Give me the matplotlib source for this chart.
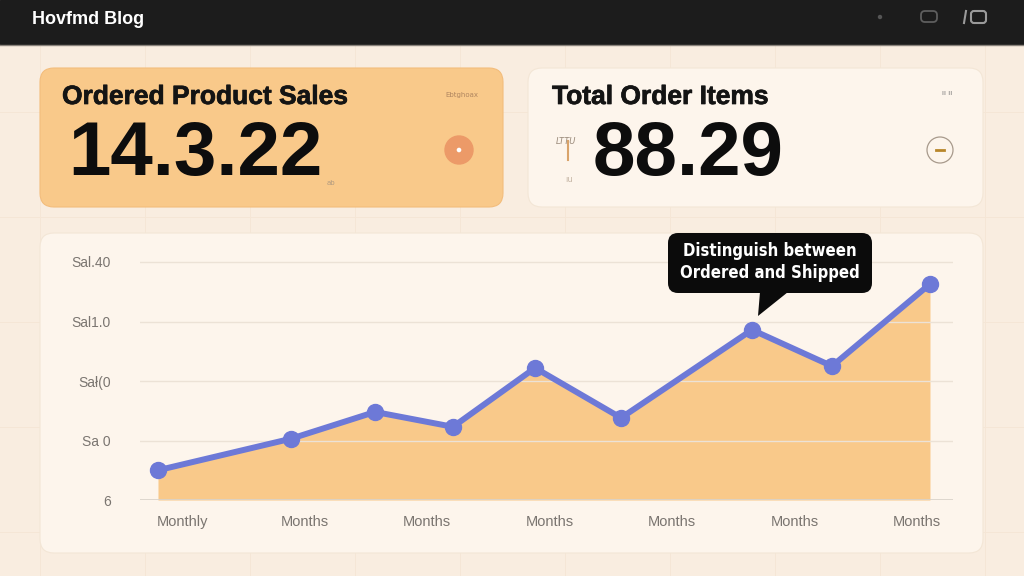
import matplotlib
matplotlib.use("Agg")
import matplotlib.pyplot as plt
import matplotlib.patheffects as pe
from matplotlib.patches import FancyBboxPatch, Rectangle, Circle, Polygon

# ---------------- data ----------------
month_pos = [-0.196, 0.890, 1.576, 2.212, 2.882, 3.584, 4.653, 5.306, 6.106]
sales = [5.0, 10.3, 14.8, 12.3, 22.2, 13.8, 28.6, 22.5, 36.3]
x_ticks = [0, 1, 2, 3, 4, 5, 6]
x_labels = ["Monthly", "Months", "Months", "Months", "Months", "Months", "Months"]
y_ticks = [0, 10, 20, 30, 40]
y_labels = ["6", "Sa 0", "Sa\u0142(0", "Sal1.0", "Sal.40"]
kpi_titles = ["Ordered Product Sales", "Total Order Items"]
kpi_values = ["14.3.22", "88.29"]
blog_title = "Hovfmd Blog"
callout = "Distinguish between\nOrdered and Shipped"

# ---------------- style ----------------
BG = "#f9ede0"
CARD = "#fdf5ec"
ORANGE = "#f9c98a"
LINE = "#6d79d7"
W, H = 1024, 576

fig = plt.figure(figsize=(W / 100, H / 100), dpi=100, facecolor=BG)

# overlay in pixel coordinates
ov = fig.add_axes([0, 0, 1, 1])
ov.set_xlim(0, W)
ov.set_ylim(H, 0)
ov.axis("off")
ov.set_zorder(0)

# faint background grid
for gx in range(40, W, 105):
    ov.plot([gx, gx], [44, H], color="#f5e6d6", lw=0.7, zorder=0)
for gy in range(112, H, 105):
    ov.plot([0, W], [gy, gy], color="#f5e6d6", lw=0.7, zorder=0)

# top bar
ov.add_patch(Rectangle((0, 0), W, 44, color="#1c1c1c", zorder=1))
ov.plot([0, W], [44.5, 44.5], color="#8a837c", lw=1.0, zorder=1)
ov.text(32, 19, blog_title, color="white", fontsize=13, fontweight="bold",
        family="Liberation Sans", va="center", ha="left", zorder=2)
ov.add_patch(Circle((880, 17), 1.5, color="#555555", zorder=2))
ov.add_patch(FancyBboxPatch((922, 12), 14, 9, boxstyle="round,pad=1,rounding_size=4",
                            fill=False, ec="#5e5e5e", lw=1.3, zorder=2))
ov.plot([966, 964], [11, 23], color="#9a9a9a", lw=1.5, zorder=2)
ov.add_patch(FancyBboxPatch((971, 11), 15, 12, boxstyle="round,pad=0,rounding_size=3",
                            fill=False, ec="#9a9a9a", lw=1.5, zorder=2))

# cards
def card(x0, y0, x1, y1, color, ec="none"):
    ov.add_patch(FancyBboxPatch((x0, y0), x1 - x0, y1 - y0,
                                boxstyle="round,pad=0,rounding_size=14",
                                fc=color, ec=ec, lw=0.8, zorder=1))

card(40, 68, 503, 207, ORANGE, ec="#f3bd7c")
card(528, 68, 983, 207, CARD, ec="#f3e6d6")
card(40, 233, 983, 553, CARD, ec="#f3e6d6")

# KPI texts
thick = [pe.withStroke(linewidth=0.5, foreground="#141414")]
title_kw = dict(fontsize=19, fontweight="bold", family="Liberation Sans", color="#141414",
                va="center", ha="left", zorder=3, path_effects=thick)
ov.text(62, 97, kpi_titles[0], **title_kw)
ov.text(552, 97, kpi_titles[1], **title_kw)
num_kw = dict(fontsize=55, fontweight="bold", family="Liberation Sans", color="#0d0d0d",
              va="center", ha="left", zorder=3)
ov.text(68, 156, kpi_values[0], **num_kw)
ov.text(593, 156, kpi_values[1], **num_kw)

# small decorations
ov.text(445, 95, "Ebtghoax", fontsize=5, color="#b08660", va="center", ha="left", zorder=3)
ov.text(327, 183, "ab", fontsize=5, color="#b09a80", va="center", ha="left", zorder=3)
ov.add_patch(Circle((459, 150), 14, color="#ec9a68", zorder=3))
ov.add_patch(Circle((459, 150), 1.6, color="white", zorder=4))
ov.text(947, 93, "ıı ıı", fontsize=5, color="#777777", va="center", ha="center", zorder=3)
ov.add_patch(Circle((940, 150), 13, fill=False, ec="#a89a8c", lw=0.9, zorder=3))
ov.plot([936, 944], [150, 150], color="#b8862a", lw=2, zorder=4)
ov.text(566, 141, "LTTU", fontsize=6, color="#9a8a7a", style="italic", va="center",
        ha="center", zorder=3)
ov.plot([568, 568], [141, 160], color="#d9a36a", lw=1.5, zorder=3)
ov.text(569, 180, "ıu", fontsize=6, color="#c8b8a8", va="center", ha="center", zorder=3)

# ---------------- chart ----------------
ax_l, ax_r, ax_b, ax_t = 140, 953, 500, 255
ax = fig.add_axes([ax_l / W, 1 - ax_b / H, (ax_r - ax_l) / W, (ax_b - ax_t) / H])
ax.set_zorder(2)
ax.patch.set_alpha(0)
ax.set_xlim((ax_l - 182) / 122.5, (ax_r - 182) / 122.5)
ax.set_ylim(0, (ax_b - ax_t) / 59.5 * 10)

ax.fill_between(month_pos, sales, 0, color=ORANGE, lw=0, zorder=1)
ax.plot(month_pos, sales, color=LINE, lw=4.3, marker="o", markersize=11.5,
        solid_capstyle="round", zorder=3)

for s in ax.spines.values():
    s.set_visible(False)
ax.set_yticks(y_ticks)
ax.set_yticklabels(y_labels)
ax.set_xticks(x_ticks)
ax.set_xticklabels(x_labels)
ax.tick_params(axis="y", length=0, pad=21, labelsize=10, labelcolor="#7a7570")
ax.tick_params(axis="x", length=0, pad=11, labelsize=10.5, labelcolor="#7a7570")
for lab in ax.get_xticklabels() + ax.get_yticklabels():
    lab.set_family("Liberation Sans")
ax.grid(axis="y", color="#ece2d6", lw=1, zorder=0)
ax.grid(axis="x", visible=False)
ax.axhline(0, color="#d9d2ca", lw=1.2, zorder=2)

# callout bubble (pixel coords on overlay, drawn above chart)
ov2 = fig.add_axes([0, 0, 1, 1])
ov2.set_xlim(0, W)
ov2.set_ylim(H, 0)
ov2.axis("off")
ov2.set_zorder(5)
ov2.add_patch(FancyBboxPatch((668, 233), 204, 60, boxstyle="round,pad=0,rounding_size=10",
                             fc="#0b0b0b", ec="none", zorder=5))
ov2.add_patch(Polygon([(760, 292), (788, 292), (758, 316)], closed=True,
                      fc="#0b0b0b", ec="none", zorder=5))
ov2.text(770, 262, callout, color="white", fontsize=12, fontweight="bold",
         family="DejaVu Sans", fontstretch="condensed", ha="center", va="center",
         linespacing=1.25, zorder=6)

fig.savefig("out.png", dpi=100, facecolor=BG)
